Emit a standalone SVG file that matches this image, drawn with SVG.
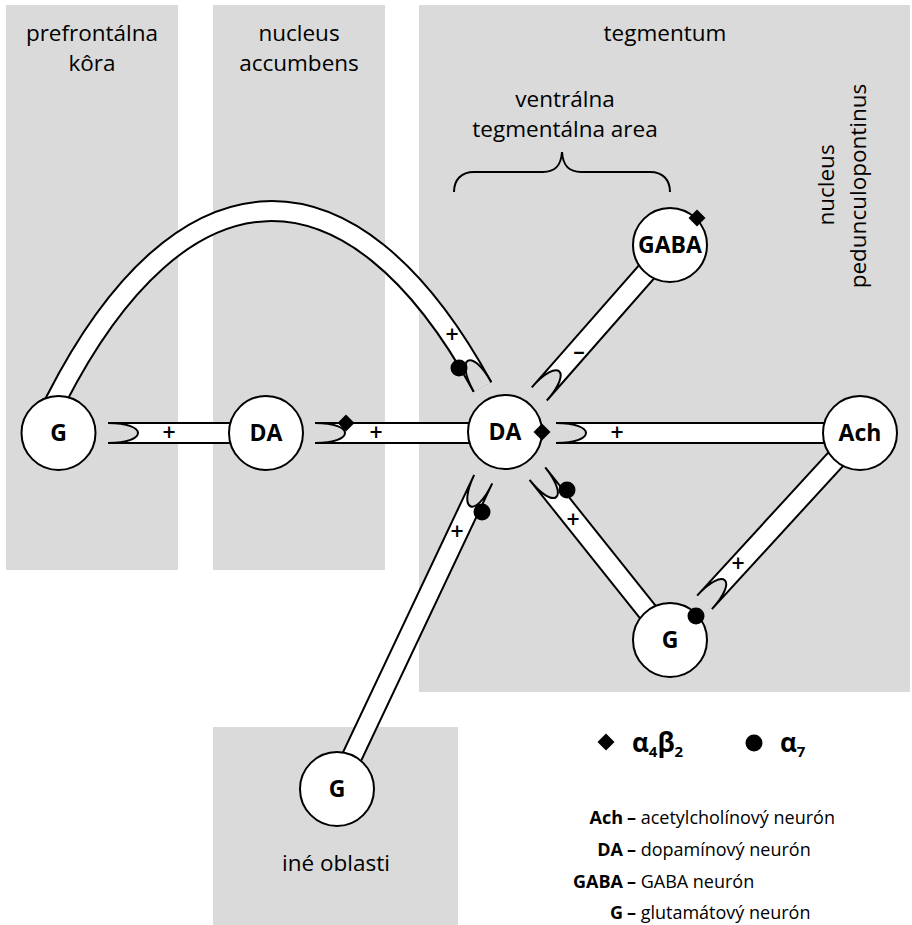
<svg xmlns="http://www.w3.org/2000/svg" width="912" height="925" viewBox="0 0 912 925">
<defs>
<style>
.panel{fill:#d9dad9}
.band{fill:#fff;stroke:none}
.ol{fill:none;stroke:#000;stroke-width:2}
.cut{fill:#d9dad9;stroke:none}
.node circle{fill:#fff;stroke:#000;stroke-width:2}
.node text{font-family:"Open Sans","Noto Sans",sans-serif;font-weight:700;font-size:23px;text-anchor:middle;fill:#000}
.t{font-family:"Open Sans","Noto Sans",sans-serif;font-size:22.5px;text-anchor:middle;fill:#000}
.sign{font-family:"Open Sans","Noto Sans",sans-serif;font-size:23px;font-weight:600;text-anchor:middle;fill:#000}
.leg{font-family:"Open Sans","Noto Sans",sans-serif;font-size:18px;fill:#000}
.sym{font-family:"Open Sans","Noto Sans",sans-serif;font-size:26px;font-weight:700;fill:#000}
.sub{font-size:15px}
.b{font-weight:700}
.dot{fill:#000}
</style>
</defs>

<g id="panels">
<rect class="panel" x="6" y="5" width="172" height="565"/>
<rect class="panel" x="213" y="5" width="172" height="565"/>
<rect class="panel" x="419" y="5" width="491" height="687"/>
<rect class="panel" x="213" y="727" width="245" height="198"/>
</g>

<g id="region-labels">
<text class="t" x="92" y="41">prefrontálna</text>
<text class="t" x="92" y="71">kôra</text>
<text class="t" x="299" y="41">nucleus</text>
<text class="t" x="299" y="71">accumbens</text>
<text class="t" x="665" y="41">tegmentum</text>
<text class="t" x="565" y="107">ventrálna</text>
<text class="t" x="565" y="137">tegmentálna area</text>
<path class="ol" d="M454,192 C454,180 461,172 474,172 L543,172 C555,172 561,166 562,152 C563,166 569,172 581,172 L650,172 C663,172 670,180 670,192"/>
<text class="t" transform="translate(834,185) rotate(-90)" x="0" y="0">nucleus</text>
<text class="t" transform="translate(866,186) rotate(-90)" x="0" y="0">pedunculopontinus</text>
<text class="t" x="336" y="871">iné oblasti</text>
</g>

<g id="connectors">
<g id="arc-G-DA">
<path d="M49,413 L56,400 C180.9,155 350.5,145.8 482.5,387" fill="none" stroke="#000" stroke-width="22"/>
<path d="M49,413 L56,400 C180.9,155 350.5,145.8 482.5,387" fill="none" stroke="#fff" stroke-width="18"/>
<g transform="translate(482.5,387) rotate(-118.8)">
<path class="cut" d="M0,-9.2 C40,-9.2 40,9.2 0,9.2 Z"/>
<path class="ol" d="M0,-10 C40,-10 40,10 0,10"/>
</g>
</g>
<g transform="translate(108,433)">
<path class="band" d="M0,-10 C40,-10 40,10 0,10 L160,10 L160,-10 Z"/>
<path class="ol" d="M0,-10 H160 M0,10 H160 M0,-10 C40,-10 40,10 0,10"/>
</g>
<g transform="translate(315,433)">
<path class="band" d="M0,-10 C40,-10 40,10 0,10 L190,10 L190,-10 Z"/>
<path class="ol" d="M0,-10 H190 M0,10 H190 M0,-10 C40,-10 40,10 0,10"/>
</g>
<g transform="translate(556,433)">
<path class="band" d="M0,-10 C40,-10 40,10 0,10 L304,10 L304,-10 Z"/>
<path class="ol" d="M0,-10 H304 M0,10 H304 M0,-10 C40,-10 40,10 0,10"/>
</g>
<g transform="translate(539.3,393.9) rotate(-48.7)">
<path class="band" d="M0,-10 C40,-10 40,10 0,10 L198,10 L198,-10 Z"/>
<path class="ol" d="M0,-10 H198 M0,10 H198 M0,-10 C40,-10 40,10 0,10"/>
</g>
<g transform="translate(537.4,473.7) rotate(51.4)">
<path class="band" d="M0,-10 C40,-10 40,10 0,10 L213,10 L213,-10 Z"/>
<path class="ol" d="M0,-10 H213 M0,10 H213 M0,-10 C40,-10 40,10 0,10"/>
</g>
<g transform="translate(704.5,602.4) rotate(-47.5)">
<path class="band" d="M0,-10 C40,-10 40,10 0,10 L230,10 L230,-10 Z"/>
<path class="ol" d="M0,-10 H230 M0,10 H230 M0,-10 C40,-10 40,10 0,10"/>
</g>
<g transform="translate(483.2,479.1) rotate(115.3)">
<path class="band" d="M0,-10 C40,-10 40,10 0,10 L343,10 L343,-10 Z"/>
<path class="ol" d="M0,-10 H343 M0,10 H343 M0,-10 C40,-10 40,10 0,10"/>
</g>
<text class="sign" x="452" y="343">+</text>
<text class="sign" x="169" y="441">+</text>
<text class="sign" x="376" y="441">+</text>
<text class="sign" x="617" y="441">+</text>
<text class="sign" x="579" y="359">–</text>
<text class="sign" x="573" y="528">+</text>
<text class="sign" x="738" y="572">+</text>
<text class="sign" x="457" y="540">+</text>
</g>

<g id="node-G-pfc" class="node"><circle cx="58.5" cy="433" r="37"/><text x="58.5" y="441">G</text></g>
<g id="node-DA-nac" class="node"><circle cx="266" cy="433" r="37"/><text x="266" y="441">DA</text></g>
<g id="node-DA-vta" class="node"><circle cx="505" cy="432" r="37"/><text x="505" y="440">DA</text></g>
<g id="node-Ach" class="node"><circle cx="860" cy="433" r="37"/><text x="860" y="441">Ach</text></g>
<g id="node-GABA" class="node"><circle cx="670" cy="245" r="37"/><text x="670" y="253">GABA</text></g>
<g id="node-G-teg" class="node"><circle cx="670" cy="640" r="37"/><text x="670" y="648">G</text></g>
<g id="node-G-other" class="node"><circle cx="337" cy="789" r="37"/><text x="337" y="797">G</text></g>

<g id="receptors">
<path class="dot" d="M0,-8.5 L8.5,0 L0,8.5 L-8.5,0 Z" transform="translate(346,423)"/>
<path class="dot" d="M0,-8.5 L8.5,0 L0,8.5 L-8.5,0 Z" transform="translate(542,432)"/>
<path class="dot" d="M0,-8.5 L8.5,0 L0,8.5 L-8.5,0 Z" transform="translate(697,218)"/>
<circle class="dot" cx="459" cy="368" r="8.5"/>
<circle class="dot" cx="567" cy="490" r="8.5"/>
<circle class="dot" cx="482" cy="512" r="8.5"/>
<circle class="dot" cx="696" cy="616" r="8.5"/>
</g>

<g id="legend">
<path class="dot" d="M0,-8.5 L8.5,0 L0,8.5 L-8.5,0 Z" transform="translate(606,742)"/>
<text class="sym" x="632" y="752">α<tspan class="sub" dy="5">4</tspan><tspan dy="-5">β</tspan><tspan class="sub" dy="5">2</tspan></text>
<circle class="dot" cx="754" cy="743" r="8.5"/>
<text class="sym" x="780" y="752">α<tspan class="sub" dy="5">7</tspan></text>
<text class="leg b" x="623" y="824" text-anchor="end">Ach</text>
<text class="leg" x="627" y="824"><tspan class="b">–</tspan> acetylcholínový neurón</text>
<text class="leg b" x="623" y="856" text-anchor="end">DA</text>
<text class="leg" x="627" y="856"><tspan class="b">–</tspan> dopamínový neurón</text>
<text class="leg b" x="623" y="888" text-anchor="end">GABA</text>
<text class="leg" x="627" y="888"><tspan class="b">–</tspan> GABA neurón</text>
<text class="leg b" x="623" y="919" text-anchor="end">G</text>
<text class="leg" x="627" y="919"><tspan class="b">–</tspan> glutamátový neurón</text>
</g>
</svg>
